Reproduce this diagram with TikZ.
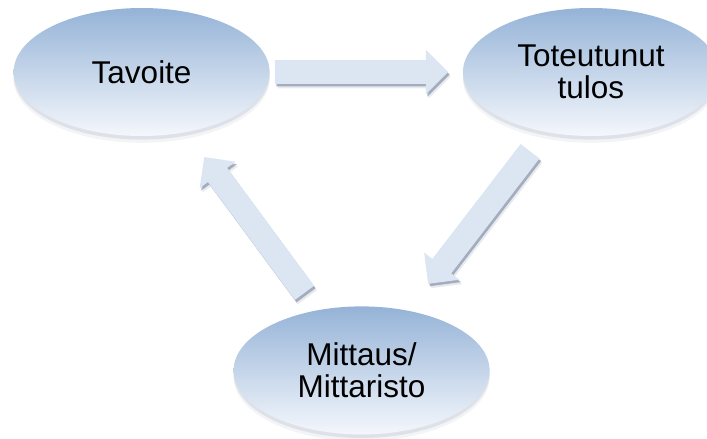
\documentclass[tikz,border=0pt]{standalone}
\usepackage{fontspec}
\setmainfont{Liberation Sans}
\usepackage{xcolor}
\usepackage{tikz}
\usetikzlibrary{shapes.geometric, shapes.arrows, positioning}

\definecolor{elltop}{RGB}{149,179,215}
\definecolor{ellbot}{RGB}{244,247,252}
\definecolor{arrfill}{RGB}{220,230,242}
\definecolor{shadecol}{RGB}{95,112,140}

\begin{document}
\begin{tikzpicture}[
    ellnode/.style={ellipse, inner sep=0pt, minimum width=6.4cm, minimum height=3.2cm,
        align=center, font=\fontsize{22.4}{23}\selectfont,
        preaction={fill=shadecol, opacity=0.08, transform canvas={yshift=-0.17cm}},
        preaction={fill=shadecol, opacity=0.14, transform canvas={yshift=-0.09cm}},
        top color=elltop, bottom color=ellbot, draw=none},
    blkarrow/.style={single arrow, inner xsep=0pt, inner ysep=0.29cm,
        single arrow head extend=0.26cm, single arrow tip angle=90,
        minimum height=#1, sloped, allow upside down, fill=arrfill,
        preaction={fill=shadecol, opacity=0.15, transform canvas={xshift=0.07cm, yshift=-0.11cm}},
        preaction={fill=shadecol, opacity=0.5, transform canvas={xshift=0.04cm, yshift=-0.06cm}}}
]
\useasboundingbox (0,0) rectangle (17.675,-10.975);

\node[ellnode] (tav) at (3.54,-1.8) {Tavoite};
\node[ellnode, right=4.82cm of tav] (tot) {Toteutunut\\tulos};
\node[ellnode] (mit) at (9.04,-9.26) {Mittaus/\\Mittaristo};

\path (tav) -- node[blkarrow=4.33cm, pos=0.444] (a1) {} (tot);
\path (tot) -- node[blkarrow=4.18cm, pos=0.453] (a2) {} (mit);
\path (mit) -- node[blkarrow=4.22cm, pos=0.452] (a3) {} (tav);
\end{tikzpicture}
\end{document}
